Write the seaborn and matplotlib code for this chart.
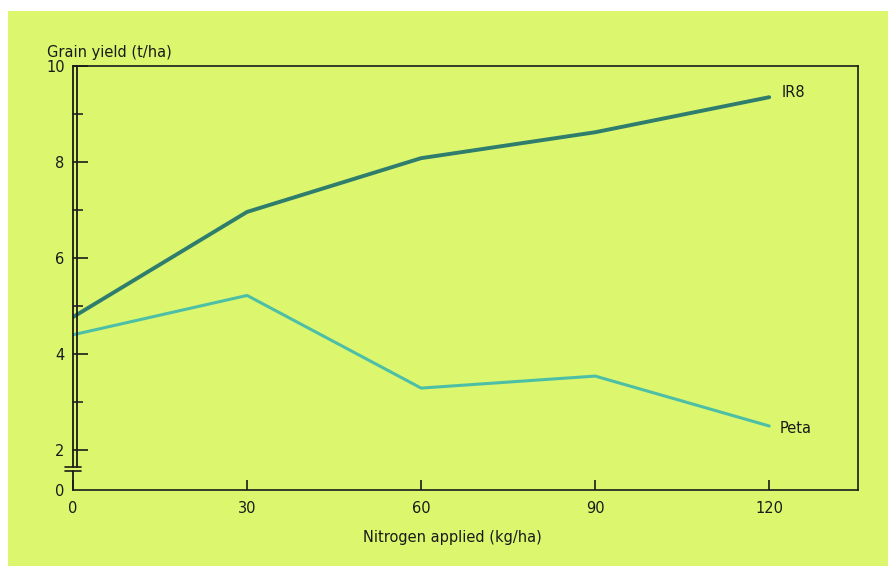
import matplotlib
matplotlib.use("Agg")
import matplotlib.pyplot as plt
import matplotlib.transforms as mtransforms
from matplotlib.patches import Rectangle
import seaborn as sns
import pandas as pd

nitrogen = [0, 30, 60, 90, 120]
ir8 = [4.77, 6.96, 8.08, 8.62, 9.35]
peta = [4.40, 5.22, 3.29, 3.54, 2.50]
varieties = ["IR8", "Peta"]
y_ticks = [2, 4, 6, 8, 10]
y_minor = [3, 5, 7, 9]
x_ticks = [0, 30, 60, 90, 120]

df = pd.DataFrame({
    "N": nitrogen * 2,
    "yield": ir8 + peta,
    "variety": ["IR8"] * len(nitrogen) + ["Peta"] * len(nitrogen),
})

sns.set_style("ticks")
plt.rcParams["font.family"] = ["DejaVu Sans"]

BG = "#dcf76e"
fig = plt.figure(figsize=(8.88, 5.66), dpi=100, facecolor="white")
fig.patches.append(Rectangle((8 / 888, 0), 1, 1 - 11 / 566, transform=fig.transFigure,
                             facecolor=BG, edgecolor="none", zorder=-10))
ax = fig.add_axes([73 / 888, 1 - 490 / 566, 785 / 888, 424 / 566])
ax.set_facecolor(BG)

palette = {"IR8": "#2f7d6c", "Peta": "#4dbfa6"}
sns.lineplot(data=df, x="N", y="yield", hue="variety", palette=palette, ax=ax,
             legend=False, linewidth=2.6, estimator=None, sort=False)
ax.lines[0].set_linewidth(2.8)
ax.lines[1].set_linewidth(2.2)

y0 = 2 - 40 / 48
ax.set_xlim(0, 135.3)
ax.set_ylim(y0, 10)

ax.set_xticks(x_ticks)
ax.set_xticklabels([str(v) for v in x_ticks])
ax.set_yticks([y0] + y_ticks)
ax.set_yticklabels(["0"] + [str(v) for v in y_ticks])
ax.set_yticks(y_minor, minor=True)
ax.tick_params(axis="x", direction="in", length=7, width=1.2, pad=8, labelsize=10.5, colors="#1a1a1a")
ax.tick_params(axis="y", which="major", direction="in", length=11, width=1.2, pad=6, labelsize=10.5, colors="#1a1a1a")
ax.tick_params(axis="y", which="minor", direction="in", length=7, width=1.2)
ax.yaxis.get_major_ticks()[0].tick1line.set_visible(False)

for s in ["top", "right", "bottom"]:
    ax.spines[s].set_visible(True)
    ax.spines[s].set_linewidth(1.2)
    ax.spines[s].set_color("#1a1a1a")
ax.spines["left"].set_visible(False)

# broken left axis with double line
trans = mtransforms.blended_transform_factory(ax.transAxes, ax.transData)
dx = 3.5 / 785
yb1 = 2 - 16.5 / 48
yb2 = 2 - 20.5 / 48
for xo in (0, dx):
    ax.plot([xo, xo], [yb1, 10], transform=trans, color="#1a1a1a", lw=1.3, clip_on=False)
ax.plot([0, 0], [y0, yb2], transform=trans, color="#1a1a1a", lw=1.3, clip_on=False)
for yy in (yb1, yb2):
    ax.plot([-8 / 785, 8 / 785], [yy, yy], transform=trans, color="#1a1a1a", lw=1.2, clip_on=False)

ax.set_xlabel("Nitrogen applied (kg/ha)", fontsize=10.5, color="#1a1a1a")
ax.xaxis.set_label_coords(0.483, -0.095)
ax.set_ylabel("")
ax.text(-26 / 785, 1 + 14 / 424, "Grain yield (t/ha)", transform=ax.transAxes,
        ha="left", va="center", fontsize=10.5, color="#1a1a1a")

ax.text(nitrogen[-1] + 2.2, ir8[-1] + 0.1, varieties[0], ha="left", va="center", fontsize=10.5, color="#1a1a1a")
ax.text(nitrogen[-1] + 1.8, peta[-1] - 0.05, varieties[1], ha="left", va="center", fontsize=10.5, color="#1a1a1a")

fig.savefig("out.png", dpi=100, facecolor="white")
